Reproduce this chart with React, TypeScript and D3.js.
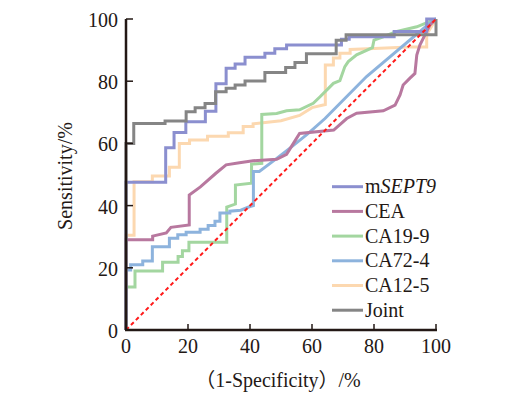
import React from 'react';
import * as d3 from 'd3';

// ROC points as [1-specificity %, sensitivity %]
const mSEPT9: [number, number][] = [
  [0, 0], [0, 47.5], [12.8, 47.5], [12.8, 58.6], [15.5, 58.6], [15.5, 63.5], [19.3, 63.5], [19.3, 67],
  [25.6, 67], [25.6, 70.3], [29, 70.3], [29, 79.2], [32.3, 79.2], [32.3, 84.2], [35.2, 84.2], [35.2, 85.5],
  [38.4, 85.5], [38.4, 87.7], [44.8, 87.7], [44.8, 89], [48, 89], [48, 90.4], [51.8, 90.4], [51.8, 91.6],
  [69.5, 91.6], [69.5, 93.5], [72, 93.5], [72, 94.3], [86.5, 94.3], [86.5, 96], [97, 96], [97, 100], [100, 100],
];
const CEA: [number, number][] = [
  [0, 0], [0, 29], [8.6, 29], [8.6, 30.2], [13, 31.2], [14.5, 33], [20.4, 33.8], [20.4, 43.4], [24, 46],
  [29, 50.4], [32.3, 53.1], [36.6, 53.8], [41, 54.4], [48.6, 54.9], [51.8, 56.5], [54, 60], [56, 63.2],
  [67, 64.3], [71.2, 68], [74.4, 69.7], [83, 70.5], [86.8, 72.3], [88.4, 75.6], [89.4, 78.8], [91.6, 81],
  [93.2, 82.5], [93.8, 88.4], [94.8, 91.6], [97, 96], [98, 98], [100, 100],
];
const CA199: [number, number][] = [
  [0, 0], [0, 13.8], [2.9, 13.8], [2.9, 19], [11.8, 19], [11.8, 21.8], [16.8, 21.8], [16.8, 23.6],
  [18.2, 23.6], [18.2, 25.5], [20.3, 25.5], [20.3, 28.2], [32.5, 28.2], [32.5, 39.5], [35.3, 40.5],
  [35.3, 46.6], [40.5, 47.2], [40.5, 53.3], [43.8, 53.6], [43.8, 69.3], [48.6, 69.6], [51.8, 70.5],
  [56, 70.8], [60.4, 72.9], [62.6, 75], [65.3, 77.7], [66.9, 79.3], [69, 80.2], [70.6, 84.7], [71.7, 86.3],
  [74.4, 88.5], [79.5, 90.8], [80, 93.2], [83, 94.3], [87.4, 96], [93.8, 97.5], [97.5, 99], [100, 100],
];
const CA724: [number, number][] = [
  [0, 0], [0, 19.3], [1.5, 19.3], [1.5, 21], [5.4, 21], [5.4, 22.2], [8.5, 22.2], [8.5, 26.8], [14, 26.8],
  [14, 29.5], [16.7, 29.5], [16.7, 30.6], [19.4, 30.6], [19.4, 31.4], [23.9, 31.4], [23.9, 32.4],
  [26.5, 32.4], [26.5, 33.6], [28.7, 33.6], [28.7, 35], [30.3, 35], [30.3, 37.6], [33.5, 37.6],
  [33.5, 38.2], [37, 38.5], [40, 39.7], [41.1, 40], [41.1, 51], [43, 51], [48, 54.7], [53.4, 58.9],
  [58.8, 63.2], [64.2, 68], [77.6, 81.5], [99, 99.5], [100, 100],
];
const CA125: [number, number][] = [
  [0, 0], [0, 30.5], [2.6, 30.5], [2.6, 47.7], [8.5, 47.7], [8.5, 49.5], [14, 49.5], [14, 52.3],
  [17.2, 52.3], [17.2, 60], [20.5, 60], [20.5, 61.1], [26.3, 61.1], [26.3, 62.3], [33, 62.3], [33, 63.4],
  [37.8, 63.4], [37.8, 65.4], [41, 65.4], [41, 66.3], [50, 67.3], [56, 69], [60, 71.5], [64.3, 72.5],
  [64.3, 85.2], [66.9, 85.2], [66.9, 87.5], [69, 87.5], [69, 89], [72.3, 89], [72.3, 90.2], [80, 90.5],
  [91.5, 91], [97, 91], [97, 95], [100, 100],
];
const Joint: [number, number][] = [
  [0, 0], [0, 60], [2.5, 60], [2.5, 66.4], [12.6, 66.4], [12.6, 67.2], [19.4, 67.2], [19.4, 70.2],
  [22.3, 70.2], [22.3, 71.5], [25.5, 71.5], [25.5, 72.8], [28.9, 72.8], [28.9, 76.6], [32.3, 76.6],
  [32.3, 77.7], [35.2, 77.7], [35.2, 78.8], [38.4, 78.8], [38.4, 80.1], [44.8, 80.1], [44.8, 82.8],
  [51.5, 82.8], [51.5, 84.4], [54.5, 84.4], [54.5, 86], [58.2, 86], [58.2, 88.8], [67.8, 88.8],
  [67.8, 93.2], [71, 93.2], [71, 94.9], [100, 94.9], [100, 100],
];

const seriesNames = ['mSEPT9', 'CEA', 'CA19-9', 'CA72-4', 'CA12-5', 'Joint'];
const seriesData = [mSEPT9, CEA, CA199, CA724, CA125, Joint];
const seriesColors = ['#8b8fcf', '#b8789f', '#a3d6a0', '#8db3dd', '#fcd8b0', '#858585'];
const drawOrder = [4, 2, 3, 1, 0, 5];
const ticks = [0, 20, 40, 60, 80, 100];

const font = '"Times New Roman", "Liberation Serif", "Noto Sans CJK SC", serif';
const fs = 20;

export default function App() {
  const x = d3.scaleLinear().domain([0, 100]).range([126, 436]);
  const y = d3.scaleLinear().domain([0, 100]).range([330, 19]);
  const line = d3.line<[number, number]>().x(d => x(d[0])).y(d => y(d[1]));

  return (
    <svg width={520} height={398} style={{ position: 'absolute', left: 0, top: 0, background: '#fff' }}
      fontFamily={font}>
      {drawOrder.map(i => (
        <path key={i} d={line(seriesData[i]) || ''} fill="none" stroke={seriesColors[i]}
          strokeWidth={3} strokeLinejoin="miter" />
      ))}
      <line x1={x(0)} y1={y(0)} x2={x(100)} y2={y(100)} stroke="#ff1a1a" strokeWidth={2}
        strokeDasharray="4,3" />

      {/* axes */}
      <line x1={x(0)} y1={y(0)} x2={x(0)} y2={y(100)} stroke="#231815" strokeWidth={2.5} />
      <line x1={x(0) - 1} y1={y(0)} x2={x(100) + 1} y2={y(0)} stroke="#231815" strokeWidth={2.5} />
      {ticks.map(t => (
        <g key={'y' + t}>
          <line x1={x(0)} x2={x(0) + 7} y1={y(t)} y2={y(t)} stroke="#231815" strokeWidth={1.5} />
          <text x={118} y={y(t) + 8} textAnchor="end" fontSize={fs} fill="#231815">{t}</text>
        </g>
      ))}
      {ticks.map(t => (
        <g key={'x' + t}>
          <line x1={x(t)} x2={x(t)} y1={y(0)} y2={y(0) - 6} stroke="#231815" strokeWidth={1.5} />
          <text x={x(t)} y={y(0) + 23} textAnchor="middle" fontSize={fs} fill="#231815">{t}</text>
        </g>
      ))}
      <text transform="translate(72,176) rotate(-90)" textAnchor="middle" fontSize={fs} fill="#231815">
        Sensitivity/%
      </text>
      <text x={278} y={387} textAnchor="middle" fontSize={fs} fill="#231815">（1-Specificity）/%</text>

      {/* legend */}
      {seriesNames.map((n, i) => {
        const ly = 186.7 + i * 24.7;
        return (
          <g key={n}>
            <line x1={332} x2={363} y1={ly} y2={ly} stroke={seriesColors[i]} strokeWidth={3} />
            <text x={365} y={ly + 6.5} fontSize={fs} fill="#231815">
              {n === 'mSEPT9' ? (<>m<tspan fontStyle="italic">SEPT9</tspan></>) : n}
            </text>
          </g>
        );
      })}
    </svg>
  );
}
